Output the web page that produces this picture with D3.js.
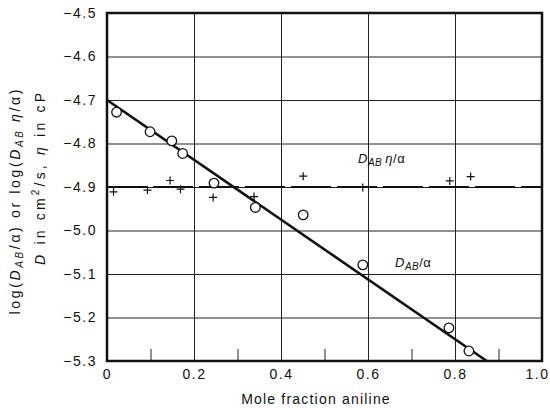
<!DOCTYPE html>
<html>
<head>
<meta charset="utf-8">
<script src="https://cdn.jsdelivr.net/npm/d3@7"></script>
<style>
  body { margin: 0; background: #fff; }
  svg text { font-family: "Liberation Sans", Arial, sans-serif; fill: #111; }
</style>
</head>
<body>
<svg id="chart" width="550" height="408"></svg>
<script>
// D_AB/alpha points (circles)
const circFrac = [0.022, 0.099, 0.149, 0.174, 0.246, 0.341, 0.451, 0.588, 0.786, 0.832];
const circLog = [-4.728, -4.773, -4.794, -4.823, -4.891, -4.947, -4.964, -5.079, -5.224, -5.277];
// D_AB eta/alpha points (plus signs)
const plusFrac = [0.015, 0.093, 0.145, 0.169, 0.244, 0.338, 0.451, 0.588, 0.788, 0.836];
const plusLog = [-4.911, -4.907, -4.885, -4.905, -4.924, -4.922, -4.875, -4.901, -4.886, -4.876];
// fitted straight line and the flat dashed line
const fitFrac = [0, 0.873];
const fitLog = [-4.70, -5.30];
const flatFrac = [0, 1.0];
const flatLog = [-4.9, -4.9];

const xTicks = [0, 0.2, 0.4, 0.6, 0.8, 1.0];
const xTickLabels = ["0", "0.2", "0.4", "0.6", "0.8", "1.0"];
const xMinor = [0.1, 0.3, 0.5, 0.7, 0.9];
const yTicks = [-4.5, -4.6, -4.7, -4.8, -4.9, -5.0, -5.1, -5.2, -5.3];
const yTickLabels = ["\u22124.5", "\u22124.6", "\u22124.7", "\u22124.8", "\u22124.9", "\u22125.0", "\u22125.1", "\u22125.2", "\u22125.3"];

const mLeft = 107, mTop = 13, width = 435, height = 348;

const svg = d3.select("#chart");
const g = svg.append("g").attr("transform", `translate(${mLeft},${mTop})`);

const x = d3.scaleLinear().domain([0, 1]).range([0, width]);
const y = d3.scaleLinear().domain([-5.3, -4.5]).range([height, 0]);

// horizontal grid + y labels
const yAxis = g.append("g")
    .call(d3.axisLeft(y).tickValues(yTicks).tickSize(-width).tickPadding(10)
        .tickFormat((d, i) => yTickLabels[i]));
yAxis.select(".domain").remove();
yAxis.selectAll("line").style("stroke", "#222").style("stroke-width", 1);
yAxis.selectAll("text").style("font-size", "14px").style("letter-spacing", "1.5px").style("fill", "#111");

// vertical grid + x labels
const xAxis = g.append("g")
    .attr("transform", `translate(0,${height})`)
    .call(d3.axisBottom(x).tickValues(xTicks).tickSize(-height).tickPadding(8)
        .tickFormat((d, i) => xTickLabels[i]));
xAxis.select(".domain").remove();
xAxis.selectAll("line").style("stroke", "#222").style("stroke-width", 1);
xAxis.selectAll("text").style("font-size", "14px").style("letter-spacing", "1.5px").style("fill", "#111");
// last label sits left of its tick so it stays in the page
xAxis.selectAll("text").filter(d => d === 1.0).attr("text-anchor", "end").attr("dx", 7);

// short ticks at odd tenths
const minor = g.append("g")
    .attr("transform", `translate(0,${height})`)
    .call(d3.axisBottom(x).tickValues(xMinor).tickSize(-12).tickFormat(""));
minor.select(".domain").remove();
minor.selectAll("line").style("stroke", "#222").style("stroke-width", 1);

// frame
g.append("rect")
    .attr("x", 0).attr("y", 0)
    .attr("width", width).attr("height", height)
    .attr("fill", "none").attr("stroke", "#111").attr("stroke-width", 2.5);

const line = d3.line().x(d => x(d[0])).y(d => y(d[1]));

// dashed flat line
g.append("path")
    .datum(d3.zip(flatFrac, flatLog))
    .attr("d", line)
    .attr("fill", "none").attr("stroke", "#111").attr("stroke-width", 2)
    .attr("stroke-dasharray", "40,6");

// fitted line
g.append("path")
    .datum(d3.zip(fitFrac, fitLog))
    .attr("d", line)
    .attr("fill", "none").attr("stroke", "#111").attr("stroke-width", 2.6);

// circles
g.selectAll(".circ")
    .data(d3.zip(circFrac, circLog))
    .join("circle")
    .attr("class", "circ")
    .attr("cx", d => x(d[0]))
    .attr("cy", d => y(d[1]))
    .attr("r", 4.8)
    .attr("fill", "#fff").attr("stroke", "#111").attr("stroke-width", 1.3);

// plus signs
g.selectAll(".plus")
    .data(d3.zip(plusFrac, plusLog))
    .join("path")
    .attr("class", "plus")
    .attr("d", d => `M${x(d[0]) - 4},${y(d[1])}h8M${x(d[0])},${y(d[1]) - 4}v8`)
    .attr("stroke", "#111").attr("stroke-width", 1.2);

// series labels
function dLabel(sel, withEta) {
    sel.append("tspan").style("font-style", "italic").text("D");
    sel.append("tspan").style("font-style", "italic").style("font-size", "10px")
        .attr("dy", 3).text("AB");
    if (withEta) {
        sel.append("tspan").attr("dy", -3).style("font-style", "italic").text("\u2009\u03b7");
        sel.append("tspan").text("/\u03b1");
    } else {
        sel.append("tspan").attr("dy", -3).text("/\u03b1");
    }
}
svg.append("text").attr("x", 358).attr("y", 163)
    .style("font-size", "13px").style("letter-spacing", "0.5px")
    .call(dLabel, true);
svg.append("text").attr("x", 395).attr("y", 267)
    .style("font-size", "13px").style("letter-spacing", "0.5px")
    .call(dLabel, false);

// x title
svg.append("text")
    .attr("x", 316).attr("y", 404)
    .attr("text-anchor", "middle")
    .style("font-size", "14px").style("letter-spacing", "1.2px")
    .text("Mole fraction aniline");

// y title, two lines
const yt1 = svg.append("text")
    .attr("transform", "translate(20,202) rotate(-90)")
    .attr("text-anchor", "middle")
    .attr("textLength", 225).attr("lengthAdjust", "spacing")
    .style("font-size", "14px");
yt1.append("tspan").text("log(");
yt1.append("tspan").style("font-style", "italic").text("D");
yt1.append("tspan").style("font-style", "italic").style("font-size", "10px").attr("dy", 3).text("AB");
yt1.append("tspan").attr("dy", -3).text("/\u03b1) or  log(");
yt1.append("tspan").style("font-style", "italic").text("D");
yt1.append("tspan").style("font-style", "italic").style("font-size", "10px").attr("dy", 3).text("AB");
yt1.append("tspan").attr("dy", -3).style("font-style", "italic").text(" \u03b7");
yt1.append("tspan").text("/\u03b1)");

const yt2 = svg.append("text")
    .attr("transform", "translate(45,179) rotate(-90)")
    .attr("text-anchor", "middle")
    .attr("textLength", 172).attr("lengthAdjust", "spacing")
    .style("font-size", "14px");
yt2.append("tspan").style("font-style", "italic").text("D");
yt2.append("tspan").text(" in cm");
yt2.append("tspan").style("font-size", "10px").attr("dy", -6).text("2");
yt2.append("tspan").attr("dy", 6).text("/s, ");
yt2.append("tspan").style("font-style", "italic").text("\u03b7");
yt2.append("tspan").text(" in cP");
</script>
</body>
</html>
